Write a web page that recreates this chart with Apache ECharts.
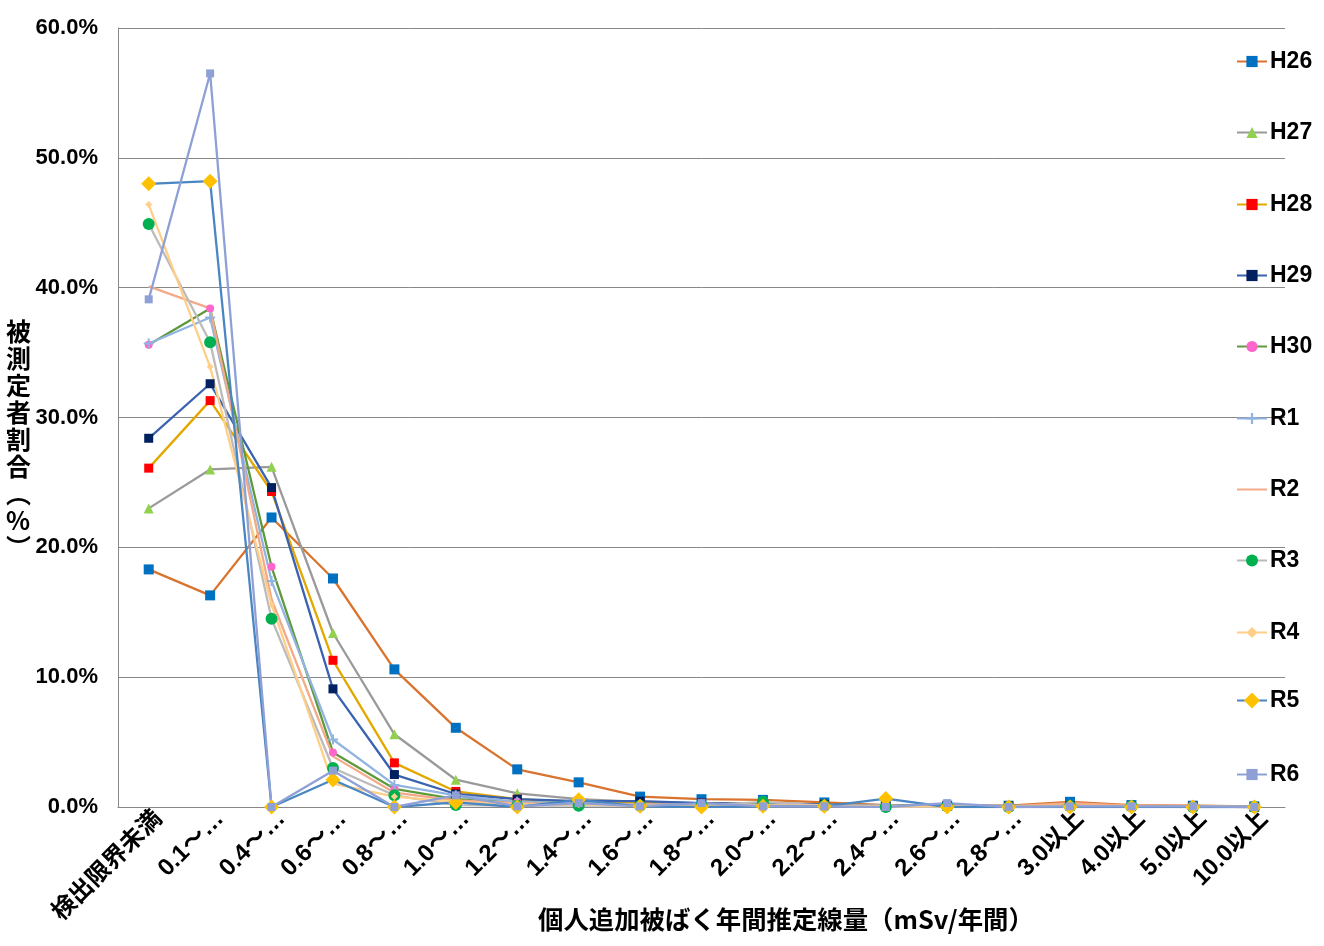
<!DOCTYPE html>
<html>
<head>
<meta charset="utf-8">
<script src="https://cdn.jsdelivr.net/npm/echarts@6/dist/echarts.min.js"></script>
<style>
html,body{margin:0;padding:0;background:#fff;}
#c{width:1324px;height:946px;}
</style>
</head>
<body>
<div id="c"></div>
<script>
var categories = ['検出限界未満','0.1～…','0.4～…','0.6～…','0.8～…','1.0～…','1.2～…','1.4～…','1.6～…','1.8～…','2.0～…','2.2～…','2.4～…','2.6～…','2.8～…','3.0以上','4.0以上','5.0以上','10.0以上'];
var yTicks = [0,10,20,30,40,50,60];

var H26 = [18.3,16.3,22.3,17.6,10.6,6.1,2.9,1.9,0.8,0.6,0.55,0.35,0.15,0.1,0.1,0.4,0.15,0.1,0.05];
var H27 = [23.0,26.0,26.2,13.4,5.6,2.1,1.05,0.6,0.4,0.3,0.3,0.2,0.15,0.1,0.1,0.1,0.05,0.05,0.0];
var H28 = [26.1,31.3,24.3,11.3,3.4,1.2,0.6,0.4,0.3,0.3,0.2,0.2,0.1,0.1,0.05,0.1,0.05,0.05,0.0];
var H29 = [28.4,32.6,24.6,9.1,2.5,1.0,0.6,0.45,0.45,0.3,0.25,0.2,0.1,0.1,0.05,0.1,0.05,0.05,0.0];
var H30 = [35.6,38.4,18.5,4.2,1.4,0.6,0.4,0.3,0.2,0.2,0.2,0.1,0.1,0.05,0.05,0.1,0.05,0.05,0.0];
var R1  = [35.7,37.7,17.4,5.2,1.7,0.9,0.4,0.3,0.2,0.2,0.15,0.1,0.1,0.05,0.05,0.05,0.05,0.0,0.0];
var R2  = [40.1,38.4,16.0,3.9,1.1,0.5,0.3,0.2,0.2,0.15,0.1,0.1,0.1,0.05,0.05,0.3,0.1,0.1,0.0];
var R3  = [44.9,35.8,14.5,3.0,0.9,0.15,0.1,0.1,0.1,0.1,0.4,0.1,0.0,0.05,0.0,0.05,0.05,0.0,0.0];
var R4  = [46.4,33.9,15.6,1.8,0.8,0.4,0.2,0.2,0.1,0.1,0.1,0.1,0.05,0.05,0.05,0.1,0.05,0.05,0.0];
var R5  = [48.0,48.2,0.0,2.1,0.0,0.35,0.0,0.55,0.05,0.0,0.05,0.05,0.65,0.0,0.0,0.0,0.0,0.0,0.0];
var R6  = [39.1,56.5,0.0,2.8,0.0,0.9,0.05,0.3,0.05,0.3,0.05,0.05,0.0,0.3,0.0,0.05,0.05,0.05,0.0];

var seriesNames = ['H26','H27','H28','H29','H30','R1','R2','R3','R4','R5','R6'];
var seriesData = [H26,H27,H28,H29,H30,R1,R2,R3,R4,R5,R6];
var lineColors = ['#D9732E','#9A9A9A','#E2A800','#3A62B0','#5E9A3C','#92B4E0','#F2AA88','#BBBBBB','#FFCF8A','#4A86C2','#8EA0D6'];
var markColors = ['#0070C0','#92D050','#FF0000','#002060','#FF66CC','#92B4E0','#F2AA88','#00B050','#FFCF8A','#FFC000','#8EA0D6'];
var plusPath = 'path://M4,0H6V4H10V6H6V10H4V6H0V4H4Z';
var symbols = ['rect','triangle','rect','rect','circle',plusPath,'none','circle','diamond','diamond','rect'];
var symSizes = [10,10,9,9,8,10,0,12,7,15,8];

var series = seriesNames.map(function(n,i){
  return {
    name:n, type:'line', data:seriesData[i],
    symbol:symbols[i], symbolSize:symSizes[i], showAllSymbol:true,
    lineStyle:{color:lineColors[i], width:2.3},
    itemStyle:{color:markColors[i]},
    emphasis:{disabled:true}
  };
});

var legendTops = [60,131,203,274,345,417,488,559,631,702,773];
var legendItemH = [14,14,14,14,14,14,14,15,14,20,14];
var legends = seriesNames.map(function(n,i){
  var lg = {
    data:[n], orient:'vertical', left:1236, top:legendTops[i]-10,
    itemWidth:30, itemHeight:legendItemH[i], padding:0,
    textStyle:{fontFamily:'Liberation Sans', fontWeight:'bold', fontSize:23, color:'#000', padding:[0,0,0,-2]}
  };
  if (n === 'R2') lg.itemStyle = {opacity:0};
  if (n === 'R5') lg.top = legendTops[i]-13;
  return lg;
});

var chart = echarts.init(document.getElementById('c'));
chart.setOption({
  animation:false,
  backgroundColor:'#fff',
  grid:{left:118, right:39, top:28, bottom:139, containLabel:false},
  legend:legends,
  xAxis:{
    type:'category', data:categories, boundaryGap:true,
    axisLine:{lineStyle:{color:'#888', width:1}},
    axisTick:{show:false},
    axisLabel:{interval:0, rotate:45, margin:18, color:'#000', fontSize:24, padding:[22,-14,0,0],
      fontFamily:"'Liberation Sans Narrow','Liberation Sans','Noto Sans CJK JP'", fontWeight:'bold'}
  },
  yAxis:{
    type:'value', min:yTicks[0], max:yTicks[yTicks.length-1], interval:10,
    axisLine:{show:true, lineStyle:{color:'#888', width:1}},
    axisTick:{show:false},
    splitLine:{lineStyle:{color:'#888', width:1}},
    axisLabel:{margin:20, color:'#000', fontSize:22, fontWeight:'bold',
      fontFamily:"'Liberation Sans Narrow','Liberation Sans'",
      formatter:function(v){return v.toFixed(1)+'%';}}
  },
  graphic:[
    {type:'text', left:6, top:318, style:{text:'被\n測\n定\n者\n割\n合\n︵\n%\n︶', font:"bold 25px 'Noto Sans CJK JP'", lineHeight:27, fill:'#000', align:'center'}},
    {type:'text', left:538, top:907, style:{text:'個人追加被ばく年間推定線量（mSv/年間）', font:"bold 25.4px 'Noto Sans CJK JP'", fill:'#000'}}
  ],
  series:series
});
</script>
</body>
</html>
